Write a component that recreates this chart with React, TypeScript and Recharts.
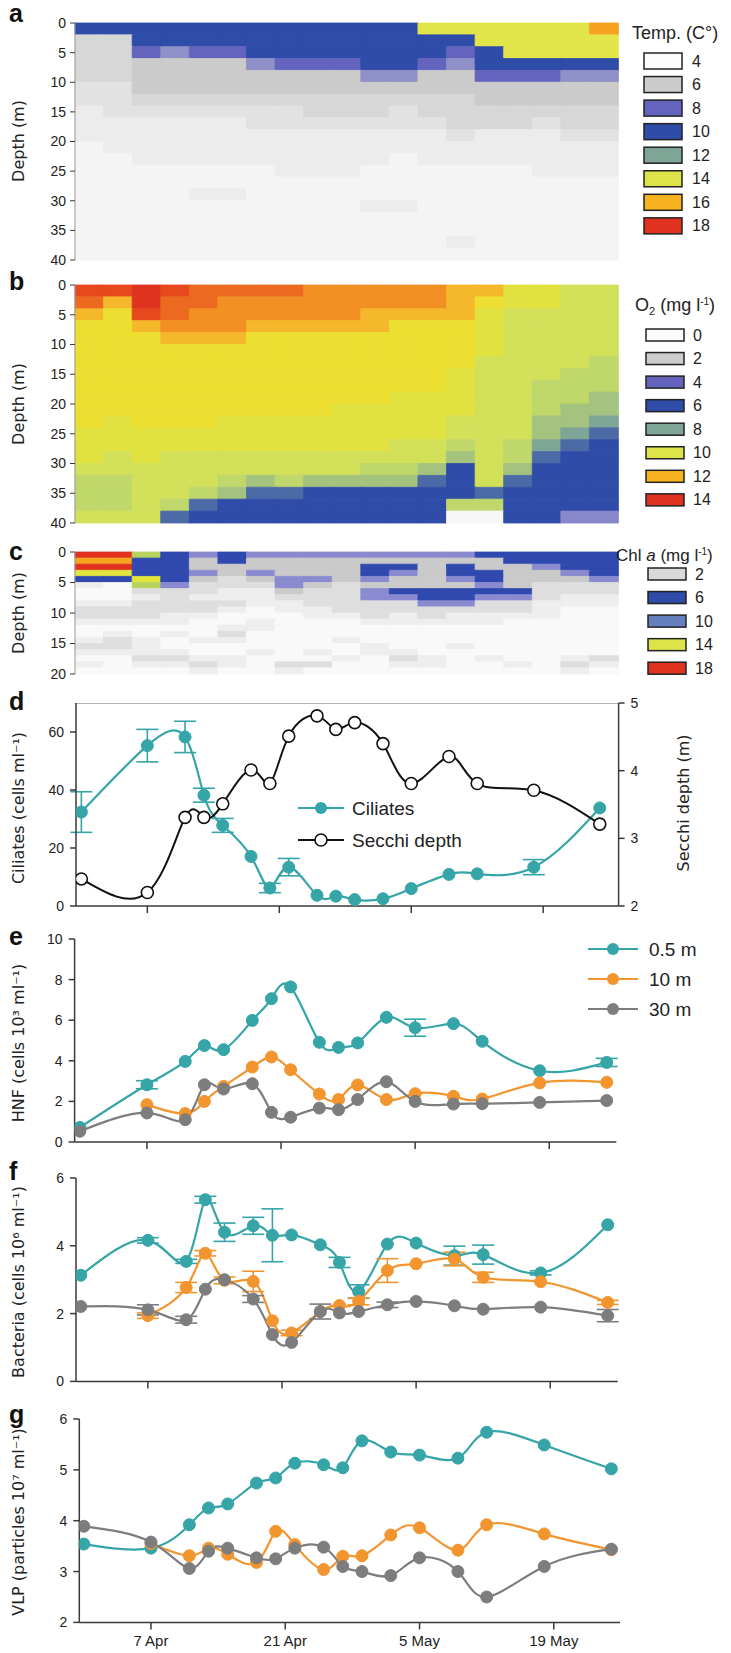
import { Bar, BarChart, Cell, ErrorBar, Line, LineChart, XAxis, YAxis } from "recharts";

// sampling dates, in days after 7 April
const sampleDays = [-7, 0, 4, 6, 8, 11, 13, 15, 18, 20, 22, 25, 28, 32, 35, 41, 48];
const dateTicks = [0, 14, 28, 42];
const dateLabels = ["7 Apr", "21 Apr", "5 May", "19 May"];

// depth layers of the profile sections (m)
const lakeLayers = [0, 2, 4, 6, 8, 10, 12, 14, 16, 18, 20, 22, 24, 26, 28, 30, 32, 34, 36, 38, 40];
const chlLayers = [0, 1, 2, 3, 4, 5, 6, 7, 8, 9, 10, 11, 12, 13, 14, 15, 16, 17, 18, 19, 20];

// one string per column (left to right), one letter per layer (top to bottom)
const temperatureProfiles = [
  "Bddddccbbbaaaaaaaaaa",
  "Bddddcccbbbaaaaaaaaa",
  "BBpeeedcbbbbaaaaaaaa",
  "BBfeeedcbbbbaaaaaaaa",
  "BBpeeedcbbbbaabaaaaa",
  "BBpeeedcbbbbaabaaaaa",
  "BBBfeedccbbbaaaaaaaa",
  "BBBpeedccbbbbaaaaaaa",
  "BBBpeeddcbbbbaaaaaaa",
  "BBBpeeddcbbbbaaaaaaa",
  "BBBBfeddcbbbaaabaaaa",
  "BBBBfedccbbaaaabaaaa",
  "yBBpeeddcbbbaaaaaaaa",
  "yBpfeedddcbbaaaaaaba",
  "yyBBpeeddbbbaaaaaaaa",
  "yyyBpeeddbbbaaaaaaaa",
  "yyyBpeedcbbbbaaaaaaa",
  "yyyBfeeddcbbbaaaaaaa",
  "oyyBfeeddcbbbaaaaaaa",
];

const oxygenProfiles = [
  "RqOYYYYYYYYYyyyzxxxz",
  "ROYYYYYYYYYyyyzzxxxz",
  "rrROYYYYYYYYyyyzzzzz",
  "RqqoOYYYYYYYyyzzzzxm",
  "qqooOYYYYYYYyyzzzxmB",
  "qoooOYYYYYYyyyzzxgBB",
  "qooOYYYYYYYyyyzzgmBB",
  "qooOYYYYYYYyyyzzxmBB",
  "oooOYYYYYYYyyyzzgBBB",
  "oooOYYYYYYyyyyzzgBBB",
  "ooOOYYYYYYyyyyzxgBBB",
  "ooOYYYYYYyyyyzzxgBBB",
  "ooOYYYYYYyyyyzzgmBBB",
  "OOOYYYYyyyyzzxgBBBxw",
  "OYyyyyzzzzzzzzzzzmxw",
  "yyzzzzzzzzzzzxxgmBBB",
  "yyzzzzzzxxxggtmBBBBB",
  "zzzzzzzxxxggtmBBBBBp",
  "zzzzzzxxxggtmBBBBBBp",
];

const chlorophyllProfiles = [
  "roryBlwwlhhlwwlhlwlw",
  "roryBwwwlhhlwlhhlwww",
  "gBBByghlhhhlwwlllhlw",
  "BBBBBphhhhllwlwwlhlw",
  "pkkpkhhlhhlwwwlwwlhl",
  "BBkkhhllhlwwlhlwwllw",
  "pkkpkhlllwwllwwwlwww",
  "pkkkppkhllwwwwwwwwhl",
  "pkkkpkhhhllwwwwwlwhw",
  "pkkkkhhhhhlwwwlwwlww",
  "pkBBpkpphhhlwwwllwww",
  "pkBpkkBphhllwwwwlhlw",
  "pkkkkkBBphhlwwwwwllw",
  "pkBBpkBBphllwwwlwwww",
  "BkkBBpBphhllwwwwwlww",
  "BBkkkkBphhlwwwwwwwlw",
  "BBpkkhhhlllwwwwwwwww",
  "BBBpkhhllwwwwwwwwlhl",
  "BBBBphhllwwwwwwwwhlw",
];

const temperatureLegend = [4, 6, 8, 10, 12, 14, 16, 18];
const oxygenLegend = [0, 2, 4, 6, 8, 10, 12, 14];
const chlorophyllLegend = [2, 6, 10, 14, 18];

// d
const ciliates = [32.4, 55.3, 58.3, 38.2, 27.8, 17.1, 6.2, 13.4, 3.7, 3.4, 2.2, 2.5, 6.0, 10.9, 11.1, 13.4, 33.8];
const ciliatesSd = [7, 5.6, 5.4, 2.4, 2.4, null, 1.6, 3, null, null, null, null, null, null, null, 2.6, null];
const secchiDepth = [2.4, 2.2, 3.31, 3.31, 3.51, 4.01, 3.81, 4.51, 4.81, 4.61, 4.71, 4.4, 3.81, 4.21, 3.81, 3.71, 3.21];

// e, f, g: 0.5 m, 10 m, 30 m
const depthLabels = ["0.5 m", "10 m", "30 m"];

const hnfSurface = [0.72, 2.82, 3.97, 4.75, 4.55, 5.99, 7.06, 7.64, 4.91, 4.66, 4.88, 6.14, 5.63, 5.83, 4.96, 3.51, 3.92];
const hnfMid = [null, 1.84, 1.4, 2.0, 2.74, 3.69, 4.19, 3.56, 2.36, 2.09, 2.81, 2.09, 2.38, 2.25, 2.12, 2.91, 2.94];
const hnfDeep = [0.53, 1.43, 1.1, 2.82, 2.61, 2.87, 1.46, 1.22, 1.67, 1.59, 2.09, 2.97, 2.0, 1.87, 1.89, 1.95, 2.04];
const hnfSurfaceSd = [null, 0.2, null, null, null, null, null, null, null, null, null, null, 0.42, null, null, null, 0.2];
const hnfMidSd = [null, null, null, null, null, null, null, null, null, null, null, null, null, null, null, null, null];
const hnfDeepSd = [null, null, null, null, null, null, null, null, null, null, null, null, null, null, null, null, null];

const bacteriaSurface = [3.13, 4.16, 3.54, 5.36, 4.4, 4.59, 4.31, 4.32, 4.03, 3.51, 2.65, 4.05, 4.08, 3.71, 3.74, 3.2, 4.62];
const bacteriaMid = [null, 1.94, 2.77, 3.78, 2.98, 2.95, 1.79, 1.43, 2.06, 2.24, 2.36, 3.27, 3.47, 3.61, 3.07, 2.94, 2.33];
const bacteriaDeep = [2.21, 2.11, 1.82, 2.72, 3.0, 2.43, 1.38, 1.15, 2.06, 2.02, 2.06, 2.26, 2.36, 2.23, 2.13, 2.19, 1.94];
const bacteriaSurfaceSd = [null, 0.08, 0.06, 0.1, 0.27, 0.25, 0.78, null, null, 0.15, 0.2, null, null, 0.28, 0.28, 0.06, null];
const bacteriaMidSd = [null, 0.08, 0.15, 0.08, 0.1, 0.3, null, 0.08, null, null, 0.1, 0.35, null, 0.2, 0.15, null, 0.06];
const bacteriaDeepSd = [null, 0.15, 0.1, null, null, 0.1, null, null, 0.22, null, null, 0.08, null, null, null, null, 0.18];

const vlpSurface = [3.54, 3.46, 3.92, 4.25, 4.33, 4.74, 4.84, 5.13, 5.1, 5.04, 5.57, 5.35, 5.29, 5.23, 5.74, 5.49, 5.02];
const vlpMid = [null, 3.55, 3.31, 3.46, 3.34, 3.18, 3.79, 3.53, 3.04, 3.3, 3.31, 3.72, 3.86, 3.42, 3.92, 3.74, 3.43];
const vlpDeep = [3.89, 3.58, 3.06, 3.4, 3.46, 3.27, 3.25, 3.46, 3.48, 3.1, 3.0, 2.92, 3.27, 3.0, 2.5, 3.1, 3.44];

const TEAL = "#35A5A8";
const ORANGE = "#F3952F";
const GREY = "#7D7D7D";
const AXIS = "#3A3A3A";
const NARROW = "'Liberation Sans', Arial, sans-serif";
const LABEL = "'DejaVu Sans', Verdana, sans-serif";
const DOT_R = 6;

const temperatureColours: Record<string, string> = {
  a: "#F4F4F4", b: "#ECECEC", c: "#E2E2E2", d: "#D7D7D7", e: "#CBCBCB",
  f: "#9090C8", p: "#6464BE", B: "#2E4CA8", y: "#E2E54A", o: "#F6A11F", r: "#E0321F",
};
const oxygenColours: Record<string, string> = {
  r: "#DF331E", R: "#E5491D", q: "#EC6A20", o: "#F29024", O: "#F5B82B", Y: "#EDDF31",
  y: "#E1E23F", z: "#D2E05A", x: "#C0D76C", g: "#A3C37F", t: "#7FA597", m: "#4C6AA6",
  B: "#2E4CA8", p: "#8787CC", w: "#F7F7F7",
};
const chlorophyllColours: Record<string, string> = {
  w: "#F9F9F9", l: "#EEEEEE", h: "#DEDEDE", k: "#CACACA", p: "#8A8AD0", B: "#3049AE",
  g: "#B5D35E", y: "#E3E43C", o: "#F7A51F", r: "#E0321F",
};
const scaleFills = ["#FCFCFC", "#CCCCCC", "#6464BE", "#2E4CA8", "#7FA597", "#DCE44A", "#F8B320", "#E0321F"];
const chlorophyllFills = ["#D9D9D9", "#2E4CA8", "#6580BE", "#DCE44A", "#E0321F"];

const tickStyle = { fontSize: 14, fill: "#222", fontFamily: NARROW };

type HeatProps = {
  profiles: string[];
  layers: number[];
  colours: Record<string, string>;
  depthTicks: number[];
  dayDomain: [number, number];
  top: number;
  plotHeight: number;
};

function HeatSection({ profiles, layers, colours, depthTicks, dayDomain, top, plotHeight }: HeatProps) {
  const thickness = layers.slice(1).map((edge, k) => edge - layers[k]);
  const rows = profiles.map((_, i) => {
    const row: Record<string, number> = { column: i };
    thickness.forEach((t, k) => {
      row[`l${k}`] = t;
    });
    return row;
  });
  return (
    <div style={{ position: "absolute", left: 0, top: top - 10 }}>
      <BarChart
        width={731}
        height={plotHeight + 40}
        data={rows}
        margin={{ top: 10, right: 113, bottom: 0, left: 35 }}
        barCategoryGap={0}
        barGap={0}
      >
        <XAxis xAxisId="col" dataKey="column" hide />
        <XAxis
          xAxisId="day"
          type="number"
          domain={dayDomain}
          allowDataOverflow
          ticks={dateTicks}
          tickFormatter={() => ""}
          height={30}
          tickSize={7}
          axisLine={{ stroke: "#9A9A9A", strokeWidth: 1.5 }}
          tickLine={{ stroke: AXIS, strokeWidth: 1.2 }}
        />
        <YAxis
          reversed
          domain={[0, layers[layers.length - 1]]}
          ticks={depthTicks}
          width={40}
          tickSize={5}
          tickMargin={4}
          tick={tickStyle}
          axisLine={{ stroke: "#9A9A9A", strokeWidth: 1 }}
          tickLine={{ stroke: AXIS, strokeWidth: 1 }}
        />
        {thickness.map((_, k) => (
          <Bar key={k} xAxisId="col" dataKey={`l${k}`} stackId="section" isAnimationActive={false}>
            {profiles.map((profile, i) => (
              <Cell key={i} fill={colours[profile[k]]} stroke={colours[profile[k]]} strokeWidth={0.8} />
            ))}
          </Bar>
        ))}
      </BarChart>
    </div>
  );
}

type Frame = { top: number; left: number; right: number; plotHeight: number; domain: [number, number] };

function CiliatePanel({ top, left, right, plotHeight, domain }: Frame) {
  const rows = sampleDays.map((day, i) => ({
    day,
    ciliates: ciliates[i],
    sd: ciliatesSd[i],
    secchi: secchiDepth[i],
  }));
  return (
    <div style={{ position: "absolute", left: 0, top: top - 10 }}>
      <LineChart
        width={731}
        height={plotHeight + 40}
        data={rows}
        margin={{ top: 10, right: 731 - right - 40, bottom: 0, left: left - 40 }}
      >
        <XAxis
          dataKey="day"
          type="number"
          domain={domain}
          allowDataOverflow
          ticks={dateTicks}
          tickFormatter={() => ""}
          height={30}
          tickSize={7}
          axisLine={{ stroke: AXIS, strokeWidth: 1.5 }}
          tickLine={{ stroke: AXIS, strokeWidth: 1.5 }}
        />
        <YAxis
          yAxisId="left"
          domain={[0, 70]}
          ticks={[0, 20, 40, 60]}
          width={40}
          tickSize={6}
          tickMargin={6}
          tick={tickStyle}
          axisLine={{ stroke: AXIS, strokeWidth: 1.5 }}
          tickLine={{ stroke: AXIS, strokeWidth: 1.5 }}
        />
        <YAxis
          yAxisId="right"
          orientation="right"
          domain={[2, 5]}
          ticks={[2, 3, 4, 5]}
          width={40}
          tickSize={6}
          tickMargin={6}
          tick={tickStyle}
          axisLine={{ stroke: AXIS, strokeWidth: 1.5 }}
          tickLine={{ stroke: AXIS, strokeWidth: 1.5 }}
        />
        <Line
          yAxisId="left"
          dataKey="ciliates"
          type="natural"
          stroke={TEAL}
          strokeWidth={2.2}
          dot={{ r: DOT_R, fill: TEAL, stroke: TEAL, strokeWidth: 1 }}
          activeDot={false}
          isAnimationActive={false}
        >
          <ErrorBar dataKey="sd" direction="y" width={11} stroke={TEAL} strokeWidth={1.6} />
        </Line>
        <Line
          yAxisId="right"
          dataKey="secchi"
          type="natural"
          stroke="#111"
          strokeWidth={2}
          dot={{ r: DOT_R, fill: "#fff", stroke: "#111", strokeWidth: 1.6 }}
          activeDot={false}
          isAnimationActive={false}
        />
      </LineChart>
    </div>
  );
}

type DepthProps = Frame & {
  yDomain: [number, number];
  yTicks: number[];
  series: (number | null)[][];
  errors?: (number | null)[][];
  showDates?: boolean;
};

function DepthPanel({ top, left, right, plotHeight, domain, yDomain, yTicks, series, errors, showDates }: DepthProps) {
  const colours = [TEAL, ORANGE, GREY];
  const rows = sampleDays.map((day, i) => {
    const row: Record<string, number | null> = { day };
    series.forEach((values, s) => {
      row[`v${s}`] = values[i];
      row[`e${s}`] = errors ? errors[s][i] : null;
    });
    return row;
  });
  return (
    <div style={{ position: "absolute", left: 0, top: top - 10 }}>
      <LineChart
        width={731}
        height={plotHeight + 40}
        data={rows}
        margin={{ top: 10, right: 731 - right, bottom: 0, left: left - 40 }}
      >
        <XAxis
          dataKey="day"
          type="number"
          domain={domain}
          allowDataOverflow
          ticks={dateTicks}
          tickFormatter={(v: number) => (showDates ? dateLabels[dateTicks.indexOf(v)] : "")}
          height={30}
          tickSize={7}
          tickMargin={6}
          tick={{ ...tickStyle, fontSize: 15 }}
          axisLine={{ stroke: AXIS, strokeWidth: 1.5 }}
          tickLine={{ stroke: AXIS, strokeWidth: 1.5 }}
        />
        <YAxis
          domain={yDomain}
          ticks={yTicks}
          width={40}
          tickSize={6}
          tickMargin={6}
          tick={tickStyle}
          axisLine={{ stroke: AXIS, strokeWidth: 1.5 }}
          tickLine={{ stroke: AXIS, strokeWidth: 1.5 }}
        />
        {series.map((_, s) => (
          <Line
            key={s}
            dataKey={`v${s}`}
            type="natural"
            stroke={colours[s]}
            strokeWidth={2.2}
            dot={{ r: DOT_R, fill: colours[s], stroke: colours[s], strokeWidth: 1 }}
            activeDot={false}
            isAnimationActive={false}
          >
            {errors && <ErrorBar dataKey={`e${s}`} direction="y" width={11} stroke={colours[s]} strokeWidth={1.6} />}
          </Line>
        ))}
      </LineChart>
    </div>
  );
}

function HeatLegend({ levels, fills, x, firstCentre, boxHeight, labelX }: {
  levels: number[]; fills: string[]; x: number; firstCentre: number; boxHeight: number; labelX: number;
}) {
  return (
    <g>
      {levels.map((level, k) => {
        const cy = firstCentre + k * 23.55;
        return (
          <g key={level}>
            <rect x={x} y={cy - boxHeight / 2} width={38} height={boxHeight} fill={fills[k]} stroke="#222" strokeWidth={1.5} />
            <text x={labelX} y={cy + 5.5} fontSize={16} fontFamily={NARROW} fill="#222">{level}</text>
          </g>
        );
      })}
    </g>
  );
}

function RotatedLabel({ x, y, text }: { x: number; y: number; text: string }) {
  return (
    <text
      transform={`translate(${x},${y}) rotate(-90)`}
      textAnchor="middle"
      dominantBaseline="central"
      fontSize={16}
      fontFamily={LABEL}
      fill="#222"
    >
      {text}
    </text>
  );
}

function Annotations() {
  const letters: [string, number][] = [["a", 22], ["b", 290], ["c", 560], ["d", 710], ["e", 945], ["f", 1180], ["g", 1423]];
  const seriesColours = [TEAL, ORANGE, GREY];
  return (
    <svg width={731} height={1653} style={{ position: "absolute", left: 0, top: 0, pointerEvents: "none" }}>
      {letters.map(([letter, y]) => (
        <text key={letter} x={9} y={y} fontSize={25} fontWeight="bold" fontFamily={NARROW} fill="#111">{letter}</text>
      ))}
      <RotatedLabel x={18} y={141} text="Depth (m)" />
      <RotatedLabel x={18} y={404} text="Depth (m)" />
      <RotatedLabel x={18} y={613} text="Depth (m)" />
      <RotatedLabel x={18} y={808} text="Ciliates (cells ml⁻¹)" />
      <RotatedLabel x={18} y={1043} text="HNF (cells 10³ ml⁻¹)" />
      <RotatedLabel x={18} y={1282} text="Bacteria (cells 10⁶ ml⁻¹)" />
      <RotatedLabel x={18} y={1522} text="VLP (particles 10⁷ ml⁻¹)" />
      <RotatedLabel x={683} y={803} text="Secchi depth (m)" />

      <text x={632} y={39} fontSize={18} fontFamily={NARROW} fill="#222">Temp. (C°)</text>
      <HeatLegend levels={temperatureLegend} fills={scaleFills} x={644} firstCentre={61} boxHeight={16} labelX={692} />
      <text x={635} y={311} fontSize={18} fontFamily={NARROW} fill="#222">
        O<tspan fontSize={11} dy={4}>2</tspan>
        <tspan dy={-4}> (mg l</tspan>
        <tspan fontSize={10} dy={-6}>-1</tspan>
        <tspan dy={6}>)</tspan>
      </text>
      <HeatLegend levels={oxygenLegend} fills={scaleFills} x={646} firstCentre={335} boxHeight={12} labelX={693} />
      <text x={616} y={561} fontSize={17} fontFamily={NARROW} fill="#222">
        Chl <tspan fontStyle="italic">a</tspan> (mg l
        <tspan fontSize={10} dy={-6}>-1</tspan>
        <tspan dy={6}>)</tspan>
      </text>
      <HeatLegend levels={chlorophyllLegend} fills={chlorophyllFills} x={648} firstCentre={574} boxHeight={12} labelX={695} />

      <g>
        <line x1={298} x2={344} y1={808} y2={808} stroke={TEAL} strokeWidth={2.2} />
        <circle cx={321} cy={808} r={DOT_R} fill={TEAL} />
        <text x={352} y={815} fontSize={19} fontFamily={NARROW} fill="#222">Ciliates</text>
        <line x1={298} x2={344} y1={840} y2={840} stroke="#111" strokeWidth={2} />
        <circle cx={321} cy={840} r={DOT_R} fill="#fff" stroke="#111" strokeWidth={1.6} />
        <text x={352} y={847} fontSize={19} fontFamily={NARROW} fill="#222">Secchi depth</text>
      </g>
      {depthLabels.map((label, k) => (
        <g key={label}>
          <line x1={588} x2={638} y1={949 + k * 30} y2={949 + k * 30} stroke={seriesColours[k]} strokeWidth={2.2} />
          <circle cx={613} cy={949 + k * 30} r={DOT_R} fill={seriesColours[k]} />
          <text x={649} y={956 + k * 30} fontSize={19} fontFamily={NARROW} fill="#222">{label}</text>
        </g>
      ))}
    </svg>
  );
}

export default function App() {
  return (
    <div style={{ position: "absolute", left: 0, top: 0, width: 731, height: 1653, background: "#fff" }}>
      <HeatSection
        profiles={temperatureProfiles}
        layers={lakeLayers}
        colours={temperatureColours}
        depthTicks={[0, 5, 10, 15, 20, 25, 30, 35, 40]}
        dayDomain={[-7.08, 48.2]}
        top={23}
        plotHeight={237}
      />
      <HeatSection
        profiles={oxygenProfiles}
        layers={lakeLayers}
        colours={oxygenColours}
        depthTicks={[0, 5, 10, 15, 20, 25, 30, 35, 40]}
        dayDomain={[-7.08, 48.2]}
        top={285}
        plotHeight={238}
      />
      <HeatSection
        profiles={chlorophyllProfiles}
        layers={chlLayers}
        colours={chlorophyllColours}
        depthTicks={[0, 5, 10, 15, 20]}
        dayDomain={[-7.17, 48.0]}
        top={552}
        plotHeight={122}
      />
      <CiliatePanel top={702.7} left={76} right={618.6} plotHeight={203} domain={[-7.57, 50.0]} />
      <DepthPanel
        top={939.3}
        left={74.6}
        right={616.3}
        plotHeight={203}
        domain={[-7.55, 49.0]}
        yDomain={[0, 10]}
        yTicks={[0, 2, 4, 6, 8, 10]}
        series={[hnfSurface, hnfMid, hnfDeep]}
        errors={[hnfSurfaceSd, hnfMidSd, hnfDeepSd]}
      />
      <DepthPanel
        top={1178.3}
        left={76}
        right={617.7}
        plotHeight={203.4}
        domain={[-7.5, 49.04]}
        yDomain={[0, 6]}
        yTicks={[0, 2, 4, 6]}
        series={[bacteriaSurface, bacteriaMid, bacteriaDeep]}
        errors={[bacteriaSurfaceSd, bacteriaMidSd, bacteriaDeepSd]}
      />
      <DepthPanel
        top={1419.3}
        left={79.3}
        right={620}
        plotHeight={203.4}
        domain={[-7.47, 48.9]}
        yDomain={[2, 6]}
        yTicks={[2, 3, 4, 5, 6]}
        series={[vlpSurface, vlpMid, vlpDeep]}
        showDates
      />
      <Annotations />
    </div>
  );
}
